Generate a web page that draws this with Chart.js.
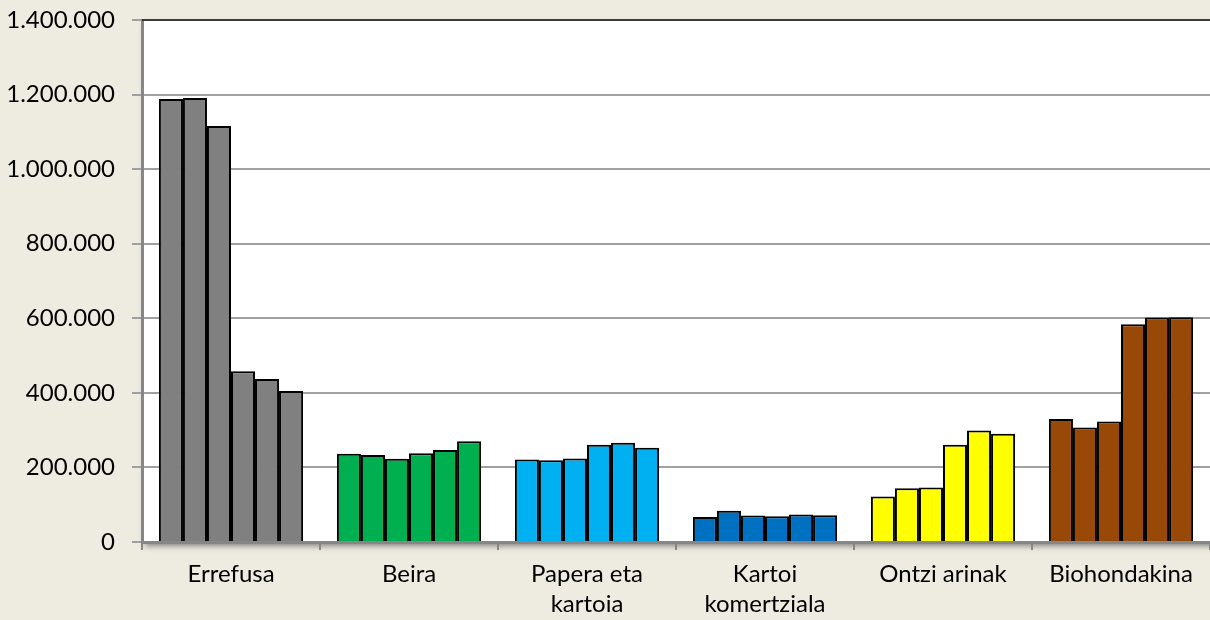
<!DOCTYPE html>
<html>
<head>
<meta charset="utf-8">
<script src="https://cdn.jsdelivr.net/npm/chart.js@4/dist/chart.umd.min.js"></script>
<style>
html,body{margin:0;padding:0;background:#EEECE1;}
#wrap{width:1210px;height:620px;position:relative;}
</style>
</head>
<body>
<div id="wrap"><canvas id="c" width="1210" height="620"></canvas></div>
<script>
const categories = ['Errefusa', 'Beira', ['Papera eta', 'kartoia'], ['Kartoi', 'komertziala'], 'Ontzi arinak', 'Biohondakina'];
const categoryColors = ['#808080', '#00B050', '#00B0F0', '#0070C0', '#FFFF00', '#984807'];
const seriesNames = ['1', '2', '3', '4', '5', '6'];
// values per series (one value per category)
const series1 = [1188000, 237000, 221000, 67000, 122000, 330000];
const series2 = [1191000, 233000, 219000, 84000, 144000, 307000];
const series3 = [1116000, 223000, 224000, 71000, 146000, 323000];
const series4 = [458000, 238000, 261000, 69000, 261000, 584000];
const series5 = [437000, 247000, 266000, 74000, 299000, 602000];
const series6 = [405000, 270000, 253000, 72000, 290000, 603000];
const yTicks = [0, 200000, 400000, 600000, 800000, 1000000, 1200000, 1400000];

const allSeries = [series1, series2, series3, series4, series5, series6];

function fmt(v){ return String(Math.round(v)).replace(/\B(?=(\d{3})+(?!\d))/g, '.'); }

const plotBg = {
  id: 'plotBg',
  beforeDraw(chart){
    const {ctx, chartArea:a} = chart;
    ctx.save();
    ctx.fillStyle = '#EEECE1';
    ctx.fillRect(0,0,chart.width,chart.height);
    ctx.shadowColor = 'rgba(0,0,0,0.45)';
    ctx.shadowBlur = 6;
    ctx.shadowOffsetX = 3;
    ctx.shadowOffsetY = 4;
    ctx.fillStyle = '#FFFFFF';
    ctx.fillRect(a.left, a.top, a.right - a.left + 10, a.bottom - a.top);
    ctx.restore();
  },
  afterDraw(chart){
    const {ctx, chartArea:a} = chart;
    ctx.save();
    ctx.strokeStyle = '#1a1a1a';
    ctx.lineWidth = 1.5;
    ctx.beginPath();
    ctx.moveTo(a.left, a.top);
    ctx.lineTo(a.right, a.top);
    ctx.stroke();
    ctx.restore();
  }
};

new Chart(document.getElementById('c'), {
  type: 'bar',
  data: {
    labels: categories,
    datasets: allSeries.map((d, i) => ({
      label: seriesNames[i],
      data: d,
      backgroundColor: categoryColors,
      borderColor: '#000000',
      borderWidth: 2,
      categoryPercentage: 0.81,
      barPercentage: 1.0
    }))
  },
  options: {
    responsive: false,
    animation: false,
    layout: { padding: { top: 20, left: 0, right: 0, bottom: 0 } },
    plugins: { legend: { display: false }, tooltip: { enabled: false } },
    scales: {
      x: {
        grid: { display: true, drawOnChartArea: false, offset: true, color: '#868686', lineWidth: 2, tickLength: 8 },
        border: { color: '#868686', width: 3 },
        ticks: { color: '#000000', font: { family: 'Lato', size: 24, lineHeight: 1.22 }, padding: 10, maxRotation: 0, autoSkip: false },
        afterFit(s){ s.height = 78; }
      },
      y: {
        min: 0, max: 1400000,
        afterBuildTicks(s){ s.ticks = yTicks.map(v => ({value: v})); },
        grid: { color: '#A0A0A0', lineWidth: 2, tickLength: 10 },
        border: { color: '#868686', width: 3 },
        ticks: { color: '#000000', font: { family: 'Lato', size: 24 }, padding: 17, callback: v => fmt(v) },
        afterFit(s){ s.width = 142; s.paddingTop = 0; s.paddingBottom = 0; }
      }
    }
  },
  plugins: [plotBg]
});
</script>
</body>
</html>
